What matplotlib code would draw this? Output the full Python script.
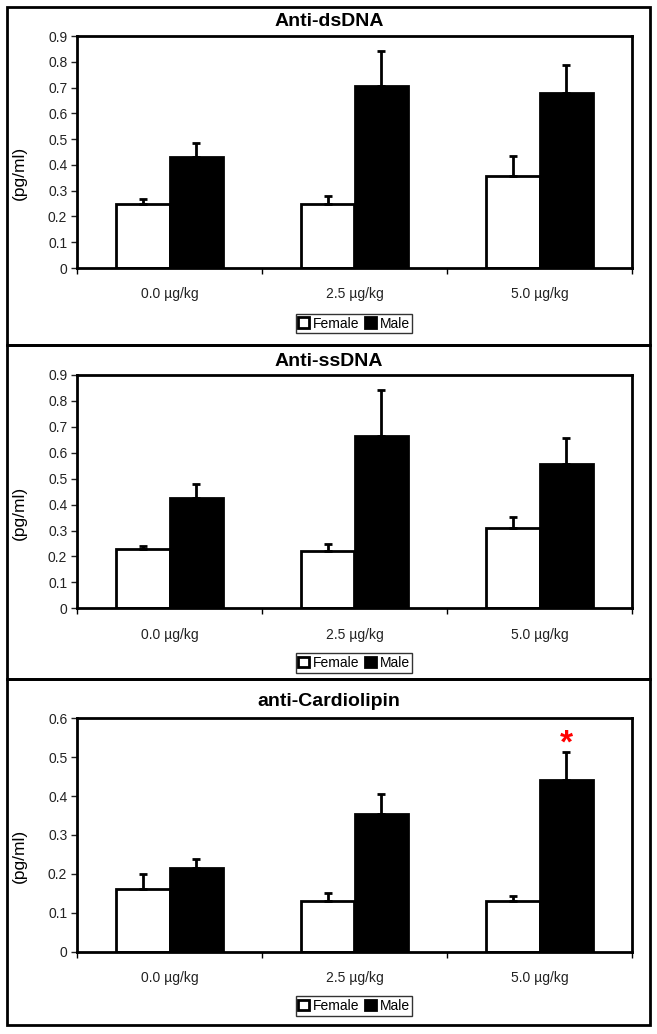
import numpy as np
import matplotlib
matplotlib.use("Agg")
import matplotlib.pyplot as plt
from matplotlib.patches import Rectangle

plt.rcParams['font.family'] = ['Liberation Sans', 'DejaVu Sans']

# Data
doses = ["0.0 µg/kg", "2.5 µg/kg", "5.0 µg/kg"]
titles = ["Anti-dsDNA", "Anti-ssDNA", "anti-Cardiolipin"]
ymax = [0.9, 0.9, 0.6]

female_ds = [0.25, 0.25, 0.355]
female_ds_err = [0.017, 0.03, 0.078]
male_ds = [0.43, 0.705, 0.677]
male_ds_err = [0.055, 0.136, 0.11]

female_ss = [0.23, 0.222, 0.311]
female_ss_err = [0.01, 0.027, 0.042]
male_ss = [0.424, 0.664, 0.555]
male_ss_err = [0.054, 0.177, 0.103]

female_cl = [0.161, 0.131, 0.131]
female_cl_err = [0.039, 0.019, 0.011]
male_cl = [0.214, 0.354, 0.442]
male_cl_err = [0.025, 0.051, 0.071]

females = [female_ds, female_ss, female_cl]
female_errs = [female_ds_err, female_ss_err, female_cl_err]
males = [male_ds, male_ss, male_cl]
male_errs = [male_ds_err, male_ss_err, male_cl_err]

W, H = 657, 1034
fig = plt.figure(figsize=(W / 100, H / 100), dpi=100)

# panel layout in pixels: (panel top, panel bottom, plot top, plot bottom, title y, legend y)
panels = [
    (7, 345, 36, 268, 21.5, 323.5),
    (345, 679, 375, 608.3, 362, 663),
    (679, 1025, 718.3, 951.7, 701, 1006),
]
plot_left, plot_right = 77, 632

x = np.arange(len(doses))
w = 0.287

for i, (ptop, pbot, atop, abot, ty, ly) in enumerate(panels):
    # outer panel border
    fig.add_artist(Rectangle((7 / W, 1 - pbot / H), 643 / W, (pbot - ptop) / H,
                             transform=fig.transFigure, fill=False,
                             edgecolor="black", lw=2, zorder=0))

    ax = fig.add_axes([plot_left / W, 1 - abot / H,
                       (plot_right - plot_left) / W, (abot - atop) / H])

    ax.bar(x - w / 2, females[i], w, color="white", edgecolor="black", lw=2,
           label="Female", zorder=2)
    ax.bar(x + w / 2, males[i], w, color="black", edgecolor="black", lw=2,
           label="Male", zorder=2)
    ax.errorbar(x - w / 2, females[i], yerr=[[0] * 3, female_errs[i]], fmt="none",
                ecolor="black", elinewidth=2, capsize=3, capthick=2, zorder=3)
    ax.errorbar(x + w / 2, males[i], yerr=[[0] * 3, male_errs[i]], fmt="none",
                ecolor="black", elinewidth=2, capsize=3, capthick=2, zorder=3)

    ax.set_xlim(-0.5, 2.5)
    ax.set_ylim(0, ymax[i])
    ax.set_yticks(np.arange(0, ymax[i] + 0.01, 0.1))
    ax.set_yticklabels(["0"] + ["%.1f" % v for v in np.arange(0.1, ymax[i] + 0.01, 0.1)])
    ax.set_xticks(x)
    ax.set_xticklabels(doses)
    ax.set_xticks([-0.5, 0.5, 1.5, 2.5], minor=True)
    ax.tick_params(axis="x", which="major", length=0, pad=14, labelsize=10)
    ax.tick_params(axis="x", which="minor", length=4, width=1, direction="out")
    ax.tick_params(axis="y", length=4, width=1, direction="out", labelsize=10, pad=3,
                   colors="#222222")
    ax.tick_params(axis="x", colors="#222222")

    for s in ax.spines.values():
        s.set_linewidth(2)

    ax.set_ylabel("(pg/ml)", fontsize=12.5)
    ax.yaxis.set_label_coords(-0.09, 0.41)

    fig.text(329 / W, 1 - ty / H, titles[i], ha="center", va="center",
             fontsize=14, fontweight="bold")

    leg = fig.legend(handles=ax.patches[:1] + ax.patches[3:4], labels=["Female", "Male"],
                     loc="center", bbox_to_anchor=(354 / W, 1 - ly / H), ncol=2,
                     fontsize=10, frameon=True, fancybox=False, handlelength=0.8,
                     handleheight=0.8, handletextpad=0.25, columnspacing=0.4,
                     borderpad=0.2, borderaxespad=0)
    leg.get_frame().set_edgecolor("black")
    leg.get_frame().set_linewidth(1)

# significance mark on the last panel
ax.text(x[2] + w / 2, males[2][2] + male_errs[2][2] - 0.018, "*", color="red",
        ha="center", va="bottom", fontsize=24, fontweight="bold")

fig.savefig("out.png", dpi=100)
